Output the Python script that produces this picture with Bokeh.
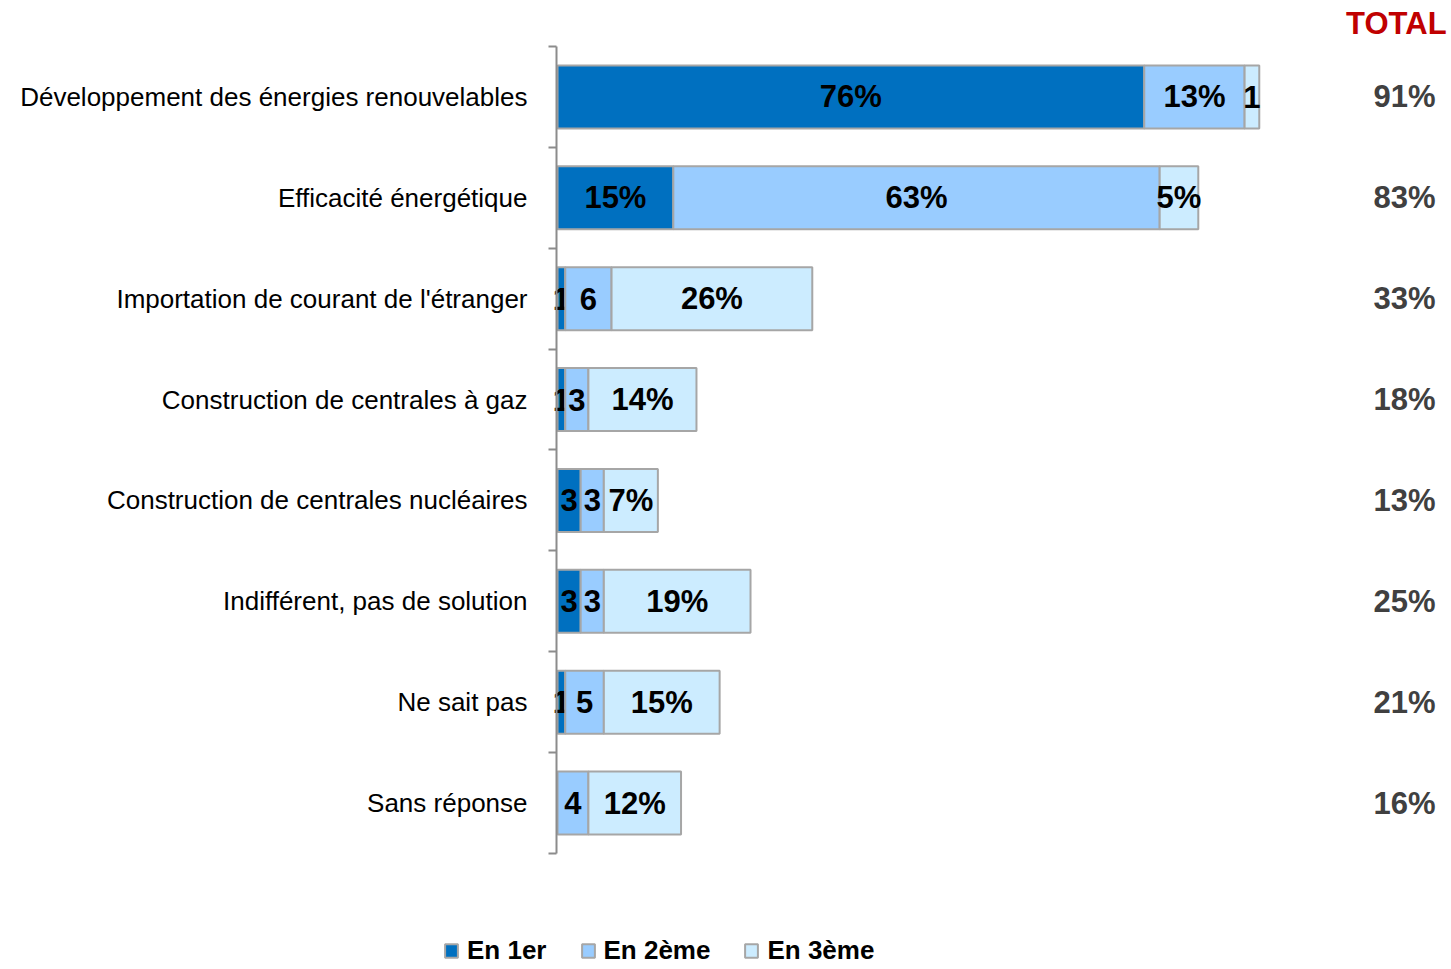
from bokeh.plotting import figure
from bokeh.models import (Range1d, LinearAxis, FixedTicker, ColumnDataSource,
                          Legend, LegendItem)
from bokeh.core.properties import value
from bokeh.embed import file_html
from bokeh.resources import INLINE

# ---------------- data ----------------
categories = [
    "Développement des énergies renouvelables",
    "Efficacité énergétique",
    "Importation de courant de l'étranger",
    "Construction de centrales à gaz",
    "Construction de centrales nucléaires",
    "Indifférent, pas de solution",
    "Ne sait pas",
    "Sans réponse",
]
series_names = ["En 1er", "En 2ème", "En 3ème"]
en1 = [76, 15, 1, 1, 3, 3, 1, 0]
en2 = [13, 63, 6, 3, 3, 3, 5, 4]
en3 = [1.9, 5, 26, 14, 7, 19, 15, 12]
lab1 = ["76%", "15%", "1", "1", "3", "3", "1", ""]
lab2 = ["13%", "63%", "6", "3", "3", "3", "5", "4"]
lab3 = ["1", "5%", "26%", "14%", "7%", "19%", "15%", "12%"]
totals = [91, 83, 33, 18, 13, 25, 21, 16]
colors = ["#0070C0", "#99CCFF", "#CCECFF"]

FONT = "Liberation Sans"
n = len(categories)
ys = [n - i - 0.5 for i in range(n)]

W, H = 1448, 966
p = figure(width=W, height=H, output_backend="svg", toolbar_location=None,
           x_range=Range1d(-72.15, 115.41), y_range=Range1d(-1.1202, 8.456),
           x_axis_location=None, y_axis_location=None, min_border=0)
p.outline_line_color = None
p.xgrid.visible = False
p.ygrid.visible = False

yaxis = LinearAxis(
    ticker=FixedTicker(ticks=ys, minor_ticks=list(range(n + 1))),
    major_label_overrides={y: c for y, c in zip(ys, categories)},
    bounds=(0, n),
    fixed_location=-0.13,
)
yaxis.axis_line_color = "#8C8C8C"
yaxis.axis_line_width = 2
yaxis.major_tick_out = 0
yaxis.major_tick_in = 0
yaxis.minor_tick_out = 8
yaxis.minor_tick_in = 0
yaxis.minor_tick_line_color = "#8C8C8C"
yaxis.minor_tick_line_width = 2
yaxis.major_label_standoff = 21
yaxis.major_label_text_font = FONT
yaxis.major_label_text_font_size = "26px"
yaxis.major_label_text_color = "#000000"
p.add_layout(yaxis, "left")

left = [0.0] * n
renderers = []
for vals, labs, col in zip([en1, en2, en3], [lab1, lab2, lab3], colors):
    right = [l + v for l, v in zip(left, vals)]
    src = ColumnDataSource(dict(y=ys, left=left, right=right,
                                mid=[(l + r) / 2 for l, r in zip(left, right)],
                                lab=labs))
    r = p.hbar(y="y", left="left", right="right", height=0.625, source=src,
               fill_color=col, line_color="#A6A6A6", line_width=2)
    renderers.append(r)
    p.text(x="mid", y="y", text="lab", source=src, text_align="center",
           text_baseline="middle", text_font=value(FONT),
           text_font_size="31px", text_font_style="bold", text_color="#000000")
    left = right

# totals column
tx = 113.73
tsrc = ColumnDataSource(dict(x=[tx] * n, y=ys, t=[f"{v}%" for v in totals]))
p.text(x="x", y="y", text="t", source=tsrc, text_align="right",
       text_baseline="middle", text_font=value(FONT), text_font_size="31px",
       text_font_style="bold", text_color="#404040")
p.text(x=[115.16], y=[8.228], text=["TOTAL"], text_align="right",
       text_baseline="middle", text_font=value(FONT), text_font_size="31px",
       text_font_style="bold", text_color="#C00000")

legend = Legend(items=[LegendItem(label=nm, renderers=[r])
                       for nm, r in zip(series_names, renderers)],
                orientation="horizontal", location=(443, 0))
legend.label_text_font = FONT
legend.label_text_font_size = "26px"
legend.label_text_font_style = "bold"
legend.label_text_color = "#000000"
legend.glyph_width = 16
legend.glyph_height = 17
legend.label_standoff = 8
legend.spacing = 33
legend.padding = 0
legend.margin = 0
legend.border_line_color = None
legend.background_fill_alpha = 0
p.add_layout(legend, "center")

open("out.html", "w").write(file_html(p, INLINE))
